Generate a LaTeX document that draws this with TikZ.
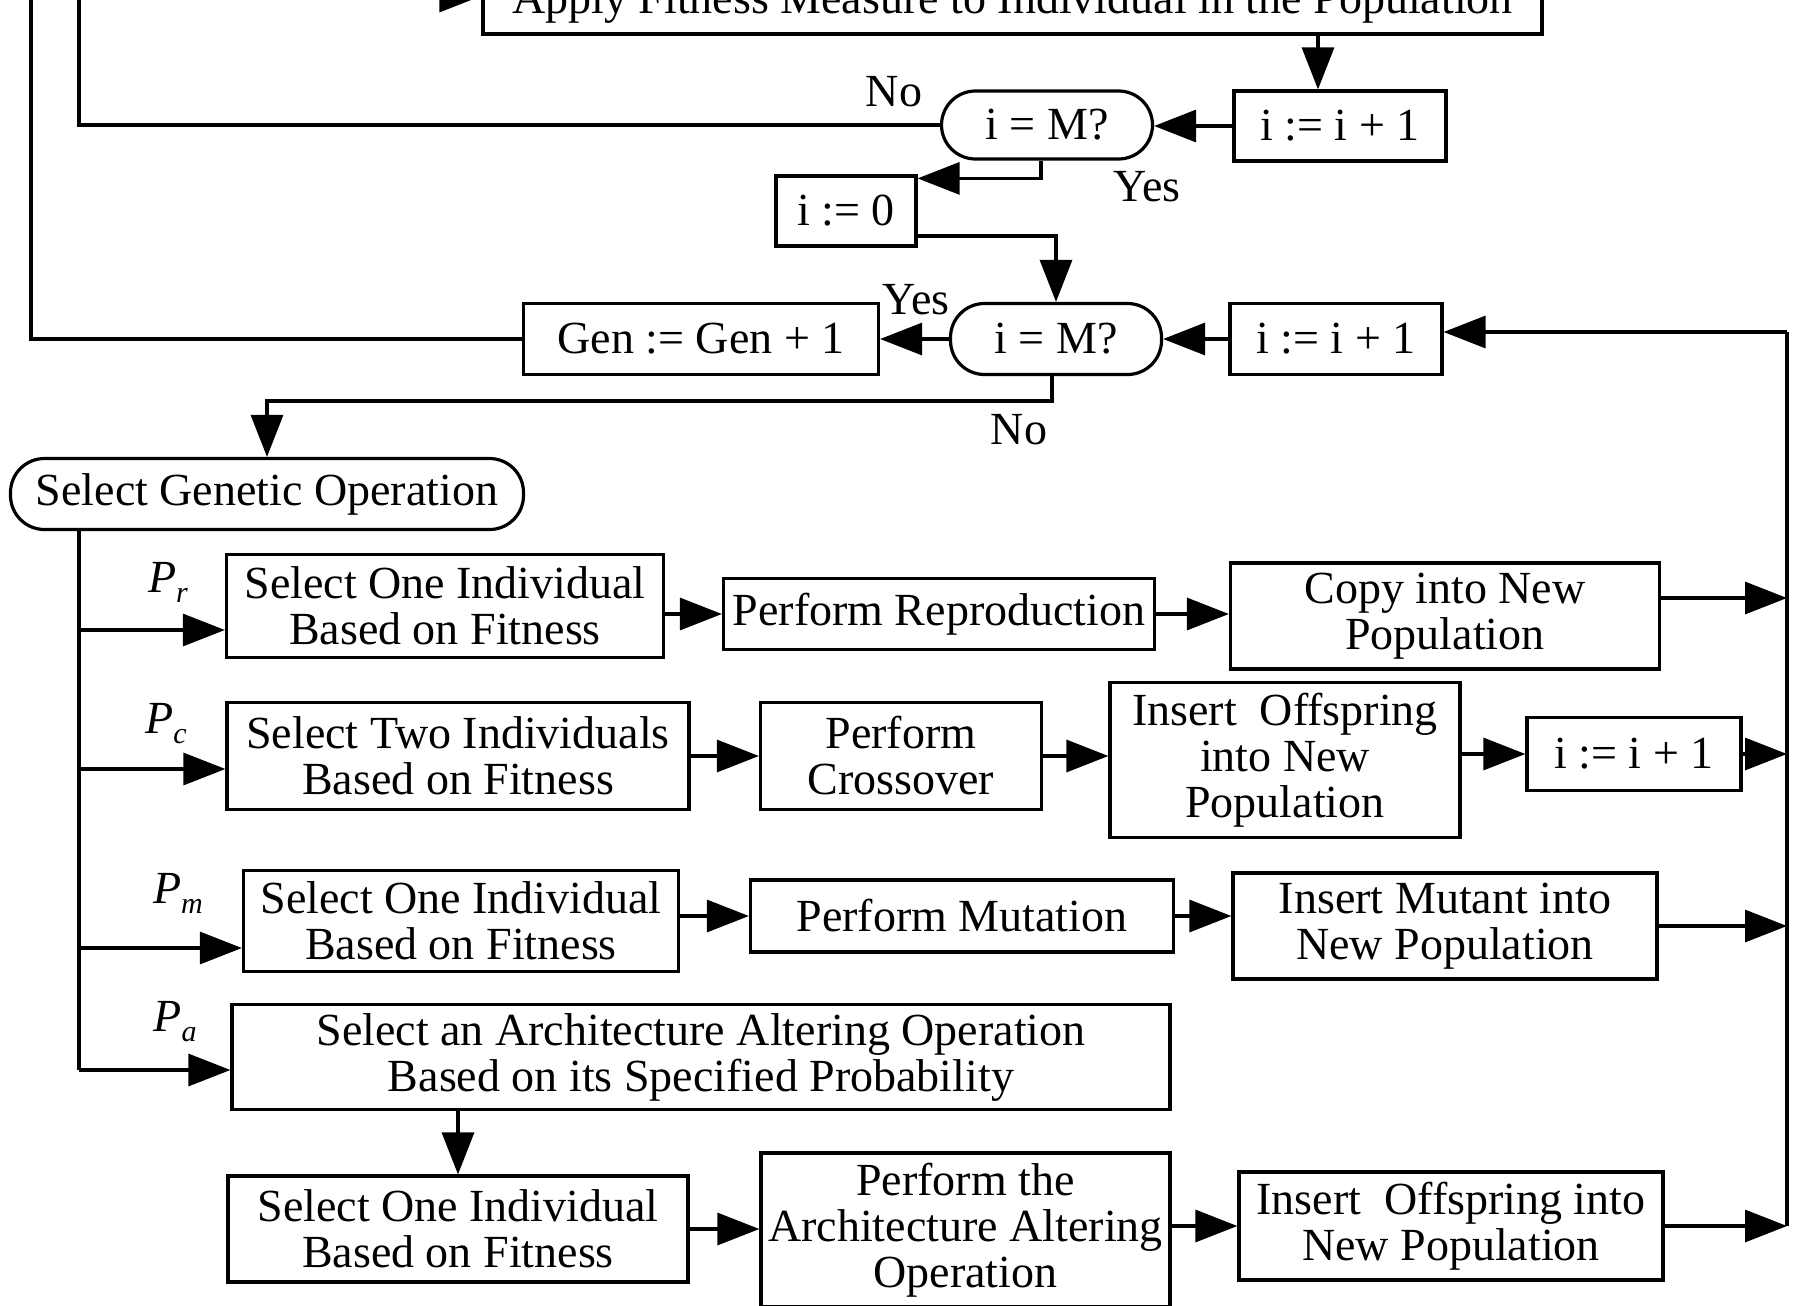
\documentclass[tikz,border=0pt]{standalone}
\usepackage{fontspec}
\setmainfont{Liberation Serif}
\usetikzlibrary{arrows.meta}
\begin{document}
\begin{tikzpicture}[x=1pt,y=-1pt,
  every node/.style={font=\fontsize{46}{46}\selectfont},
  box/.style={draw, line width=3.2pt, inner sep=0pt, align=center},
  term/.style={box, rounded corners=34pt},
  ln/.style={line width=3.2pt},
  arr/.style={ln, -{Triangle[length=42pt,width=32pt]}},
  lbl/.style={inner sep=0pt}]
\useasboundingbox (0,0) rectangle (1802,1306);
\clip (0,0) rectangle (1802,1306);

% ---------- fitness loop and generation loop ----------
\node[box, minimum width=1059pt, minimum height=62pt] (apply) at (1012.5,3) {Apply Fitness Measure to Individual in the Population};
\node[term, minimum width=211pt, minimum height=68pt] (test1) at (1047,125) {i = M?};
\node[box, minimum width=212pt, minimum height=70pt] (inc1) at (1340,126) {i := i + 1};
\node[box, minimum width=140pt, minimum height=70pt] (zero) at (846,211) {i := 0};
\node[term, minimum width=211pt, minimum height=71pt] (test2) at (1056,339) {i = M?};
\node[box, minimum width=212pt, minimum height=71pt] (inc2) at (1336,339) {i := i + 1};
\node[box, minimum width=355pt, minimum height=71pt] (gen) at (701,339) {Gen := Gen + 1};
\node[term, minimum width=513pt, minimum height=71pt] (sel) at (267,494) {Select Genetic Operation};

\node[lbl] (no1) at (894,92) {No};
\node[lbl] (yes1) at (1147,187) {Yes};
\node[lbl] (yes2) at (916,300) {Yes};
\node[lbl] (no2) at (1019,430) {No};

% ---------- reproduction ----------
\node[box, minimum width=437pt, minimum height=103pt] (selr) at (445,606) {Select One Individual\\Based on Fitness};
\node[box, minimum width=431pt, minimum height=71pt] (rep) at (939,614) {Perform Reproduction};
\node[box, minimum width=429pt, minimum height=106pt] (copy) at (1445,616) {Copy into New\\Population};

% ---------- crossover ----------
\node[box, minimum width=462pt, minimum height=107pt] (selc) at (458,756) {Select Two Individuals\\Based on Fitness};
\node[box, minimum width=281pt, minimum height=107pt] (cross) at (901,756) {Perform\\Crossover};
\node[box, minimum width=350pt, minimum height=155pt] (insc) at (1285,760) {Insert~ Offspring\\into New\\Population};
\node[box, minimum width=214pt, minimum height=73pt] (inc3) at (1634,754) {i := i + 1};

% ---------- mutation ----------
\node[box, minimum width=435pt, minimum height=101pt] (selm) at (461,921) {Select One Individual\\Based on Fitness};
\node[box, minimum width=423pt, minimum height=72pt] (mut) at (962,916) {Perform Mutation};
\node[box, minimum width=424pt, minimum height=106pt] (insm) at (1445,926) {Insert Mutant into\\New Population};

% ---------- architecture altering ----------
\node[box, minimum width=938pt, minimum height=105pt] (sela) at (701,1057) {Select an Architecture Altering Operation\\Based on its Specified Probability};
\node[box, minimum width=460pt, minimum height=106pt] (selo) at (458,1229) {Select One Individual\\Based on Fitness};
\node[box, minimum width=409pt, minimum height=154pt] (arch) at (965.5,1230) {Perform the\\Architecture Altering\\Operation};
\node[box, minimum width=424pt, minimum height=108pt] (insa) at (1451,1226) {Insert~ Offspring into\\New Population};

% probability labels
\node[lbl] (lr) at (168,582) {\itshape P\raisebox{-10pt}{\fontsize{30}{30}\selectfont r}};
\node[lbl] (lc) at (166,724) {\itshape P\raisebox{-10pt}{\fontsize{30}{30}\selectfont c}};
\node[lbl] (lm) at (178,893) {\itshape P\raisebox{-10pt}{\fontsize{30}{30}\selectfont m}};
\node[lbl] (la) at (175,1022) {\itshape P\raisebox{-10pt}{\fontsize{30}{30}\selectfont a}};

% ---------- routing points ----------
\coordinate (inner) at (79,-4);
\coordinate (outer) at (31,-60);
\coordinate (rail) at (1787,332);
\coordinate (split) at (1052,401);
\coordinate (pr) at (79,630);
\coordinate (pc) at (79,769);
\coordinate (pm) at (79,948);
\coordinate (pa) at (79,1070);

% ---------- connectors ----------
\draw[arr] (test1.west) -| (inner) -- (inner -| apply.west);
\draw[arr] ([xshift=-22pt]inc1.north |- apply.south) -- ([xshift=-22pt]inc1.north);
\draw[arr] (inc1.west) -- (inc1.west -| test1.east);
\draw[arr] ([xshift=-6pt]test1.south) |- ([yshift=-4pt]zero.north east);
\draw[arr] ([yshift=-25pt]zero.east) -| (test2.north);
\draw[arr] (inc2.west) -- (test2.east);
\draw[arr] (test2.west) -- (gen.east);
\draw[ln] (gen.west) -| (outer);
\draw[arr] (rail) -- (rail -| inc2.east);
\draw[arr] (test2.south -| split) -- (split) -| (sel.north);

% operation branches
\draw[ln] (sel.south -| pa) -- (pa);
\draw[arr] (pr) -- (pr -| selr.west);
\draw[arr] (pc) -- (pc -| selc.west);
\draw[arr] (pm) -- (pm -| selm.west);
\draw[arr] (pa) -- (pa -| sela.west);

\draw[arr] (rep.west -| selr.east) -- (rep.west);
\draw[arr] (rep.east) -- (rep.east -| copy.west);
\draw[arr] ([yshift=18pt]copy.east) -- ([yshift=18pt]copy.east -| rail);

\draw[arr] (selc.east) -- (cross.west);
\draw[arr] (cross.east) -- (cross.east -| insc.west);
\draw[arr] (inc3.west -| insc.east) -- (inc3.west);
\draw[arr] (inc3.east) -- (inc3.east -| rail);

\draw[arr] (mut.west -| selm.east) -- (mut.west);
\draw[arr] (mut.east) -- (mut.east -| insm.west);
\draw[arr] (insm.east) -- (insm.east -| rail);

\draw[arr] (sela.south -| selo.north) -- (selo.north);
\draw[arr] (selo.east) -- (selo.east -| arch.west);
\draw[arr] (insa.west -| arch.east) -- (insa.west);
\draw[arr] (insa.east) -- (insa.east -| rail);

% return rail
\draw[ln] (rail) -- (rail |- insa.east);
\end{tikzpicture}
\end{document}
